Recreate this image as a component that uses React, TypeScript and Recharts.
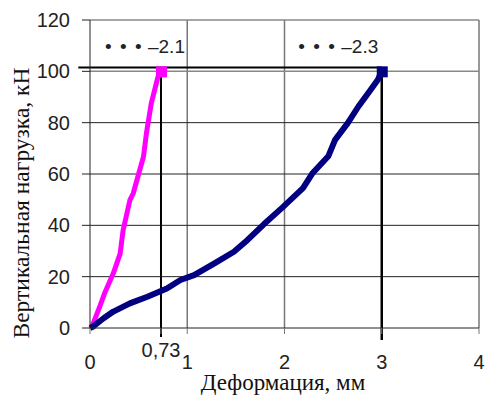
import React from 'react';
import { LineChart, Line, XAxis, YAxis, CartesianGrid, ReferenceLine, Label } from 'recharts';

// Кривые "нагрузка – деформация" для двух штампов
const deform21 = [0, 0.02, 0.1, 0.15, 0.24, 0.31, 0.34, 0.41, 0.445, 0.5, 0.55, 0.58, 0.63, 0.7, 0.73];
const load21 = [0, 0.5, 8.3, 13.5, 21.3, 29, 38, 49.8, 52.5, 60, 66.7, 75.8, 87.5, 98, 100];

const deform23 = [0, 0.03, 0.14, 0.24, 0.41, 0.59, 0.79, 0.93, 1.07, 1.28, 1.48, 1.62, 1.79, 1.98, 2.19, 2.29, 2.45, 2.52, 2.65, 2.76, 2.86, 2.96, 3.0];
const load23 = [0, 0.5, 3.8, 6.4, 9.6, 12.2, 15.4, 18.7, 20.6, 25.2, 29.7, 34.3, 40.5, 47, 54.5, 60.4, 66.9, 73.3, 79.8, 86.3, 91.5, 96.7, 100];

const xTicks = [0, 0.73, 1, 2, 3, 4];
const yTicks = [0, 20, 40, 60, 80, 100, 120];
const capLoad = 101.5;
const marks = [0.73, 3];

const toRows = (xs: number[], ys: number[]) => xs.map((d, i) => ({ def: d, load: ys[i] }));
const rows21 = toRows(deform21, load21);
const rows23 = toRows(deform23, load23);

const sans = 'Liberation Sans, Arial, sans-serif';
const serif = 'Liberation Serif, Times New Roman, serif';

const XTick = (props: any) => {
  const { x, y, payload } = props;
  const v = payload.value as number;
  const lifted = v === 0.73;
  return (
    <text x={x} y={y + (lifted ? 23 : 35)} textAnchor="middle" fontSize={20} fontFamily={sans} fill="#222">
      {String(v).replace('.', ',')}
    </text>
  );
};

// квадрат на конце кривой и подпись вида "• • • –2.1" над ним
const endMarker = (color: string, last: number, tag: string, tagDx: number) => (p: any) => {
  if (p.index !== last) return <g key={p.key ?? `d${p.index}`} />;
  const x0 = p.cx + tagDx;
  const ty = p.cy - 18;
  return (
    <g key={p.key ?? `d${p.index}`}>
      <rect x={p.cx - 5} y={p.cy - 5} width={11} height={11} fill={color} />
      <text y={ty} fontSize={19} fontFamily={sans} fill="#222">
        <tspan x={x0}>•</tspan>
        <tspan x={x0 + 15}>•</tspan>
        <tspan x={x0 + 30}>•</tspan>
        <tspan x={x0 + 43}>{tag}</tspan>
      </text>
    </g>
  );
};

export default function App() {
  return (
    <div style={{ position: 'absolute', left: 0, top: 0, width: 486, height: 395, background: '#fff' }}>
      <LineChart width={486} height={395} margin={{ top: 20, right: 7, bottom: 0, left: 0 }}>
        <CartesianGrid horizontal={false} verticalValues={[1, 2, 4]} stroke="#777" strokeWidth={1.5} />
        <CartesianGrid vertical={false} horizontalValues={[20, 40, 60, 80]} stroke="#222" />
        <CartesianGrid vertical={false} horizontalValues={[100, 120]} stroke="#888" strokeWidth={1.5} />
        <XAxis
          type="number"
          dataKey="def"
          domain={[0, 4]}
          ticks={xTicks}
          height={67}
          tickSize={6}
          tickMargin={0}
          tick={<XTick />}
          tickLine={{ stroke: '#777' }}
          axisLine={{ stroke: '#222' }}
          allowDuplicatedCategory={false}
        >
          <Label
            content={() => (
              <text x={283} y={390} textAnchor="middle" fontSize={23} fontFamily={serif} fill="#111">
                Деформация, мм
              </text>
            )}
          />
        </XAxis>
        <YAxis
          type="number"
          domain={[0, 120]}
          ticks={yTicks}
          width={90}
          tickSize={8}
          tickMargin={12}
          tick={{ fontSize: 20, fontFamily: sans, fill: '#222' }}
          tickLine={{ stroke: '#222' }}
          axisLine={{ stroke: '#222' }}
        >
          <Label
            content={() => (
              <text
                x={29}
                y={203}
                transform="rotate(-90 29 203)"
                textAnchor="middle"
                fontSize={23.5}
                fontFamily={serif}
                fill="#111"
              >
                Вертикальная нагрузка, кН
              </text>
            )}
          />
        </YAxis>
        <ReferenceLine
          segment={[{ x: -0.12, y: capLoad }, { x: marks[1], y: capLoad }]}
          stroke="#000"
          strokeWidth={2}
          ifOverflow="visible"
        />
        <ReferenceLine
          segment={[{ x: marks[0], y: capLoad }, { x: marks[0], y: -3.5 }]}
          stroke="#000"
          strokeWidth={2}
          ifOverflow="visible"
        />
        <ReferenceLine
          segment={[{ x: marks[1], y: capLoad }, { x: marks[1], y: -4.7 }]}
          stroke="#000"
          strokeWidth={2.5}
          ifOverflow="visible"
        />
        <Line
          data={rows21}
          dataKey="load"
          type="linear"
          stroke="#ff00ff"
          strokeWidth={5}
          strokeLinejoin="round"
          dot={endMarker('#ff00ff', rows21.length - 1, '–2.1', -56)}
          activeDot={false}
          isAnimationActive={false}
        />
        <Line
          data={rows23}
          dataKey="load"
          type="linear"
          stroke="#000080"
          strokeWidth={6}
          strokeLinejoin="round"
          dot={endMarker('#000080', rows23.length - 1, '–2.3', -83.5)}
          activeDot={false}
          isAnimationActive={false}
        />
      </LineChart>
    </div>
  );
}
